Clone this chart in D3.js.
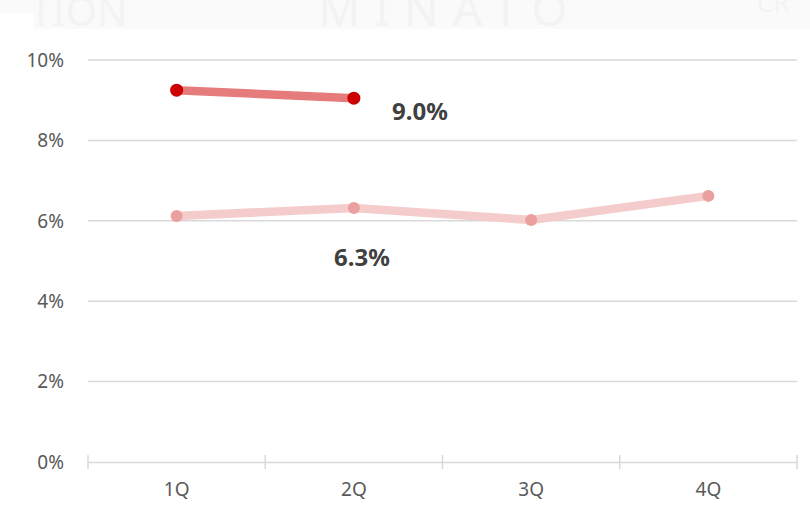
<!DOCTYPE html>
<html>
<head>
<meta charset="utf-8">
<script src="https://cdn.jsdelivr.net/npm/d3@7"></script>
<style>
  html, body { margin: 0; padding: 0; background: #fff; }
  svg { display: block; font-family: "Noto Sans", "Open Sans", sans-serif; }
</style>
</head>
<body>
<svg width="810" height="520"></svg>
<script>
const quarters = ["1Q", "2Q", "3Q", "4Q"];
const yTicks = [0, 0.02, 0.04, 0.06, 0.08, 0.10];
const lastYear = [0.0612, 0.0632, 0.0602, 0.0662];
const thisYear = [0.0925, 0.0905];
const labels = [
    { text: "9.0%", series: "thisYear", index: 1 },
    { text: "6.3%", series: "lastYear", index: 1 }
];

const svg = d3.select("svg");
const width = 810, height = 520;
const margin = { top: 60, right: 13, bottom: 58, left: 88 };
const font = "\"Noto Sans\", \"Open Sans\", sans-serif";

// faint watermark strip at the top of the screenshot
const band = svg.append("g");
band.append("rect")
    .attr("x", 0).attr("y", 0)
    .attr("width", width).attr("height", 29)
    .attr("fill", "#fafafa");
band.append("text")
    .attr("x", 450).attr("y", 26)
    .attr("text-anchor", "middle")
    .attr("font-size", 46)
    .attr("letter-spacing", 14)
    .attr("fill", "#f3f3f3")
    .text("MINATO");
band.append("text")
    .attr("x", 30).attr("y", 26)
    .attr("font-size", 40)
    .attr("fill", "#f3f3f3")
    .text("TION");
band.append("text")
    .attr("x", 757).attr("y", 12)
    .attr("font-size", 26)
    .attr("fill", "#f3f3f3")
    .text("CR");
band.append("rect")
    .attr("x", 0).attr("y", 14)
    .attr("width", 34).attr("height", 16)
    .attr("fill", "#fff");
band.append("rect")
    .attr("x", 0).attr("y", 29)
    .attr("width", width).attr("height", 6)
    .attr("fill", "#fff");

const x = d3.scaleBand()
    .domain(quarters)
    .range([margin.left, width - margin.right]);

const y = d3.scaleLinear()
    .domain([0, 0.10])
    .range([height - margin.bottom, margin.top]);

const gridColor = "#d9d9d9";

// gridlines
svg.append("g")
    .selectAll("line")
    .data(yTicks.filter(d => d > 0))
    .join("line")
    .attr("x1", margin.left)
    .attr("x2", width - margin.right)
    .attr("y1", d => y(d))
    .attr("y2", d => y(d))
    .attr("stroke", gridColor)
    .attr("stroke-width", 1.5);

// y labels
svg.append("g")
    .selectAll("text")
    .data(yTicks)
    .join("text")
    .attr("x", 64)
    .attr("y", d => y(d))
    .attr("dy", "0.36em")
    .attr("text-anchor", "end")
    .attr("font-size", 19)
    .attr("fill", "#595959")
    .text(d => d3.format(".0%")(d));

// x axis
const xAxis = svg.append("g")
    .attr("transform", `translate(0,${y(0)})`)
    .call(d3.axisBottom(x).tickSize(0).tickPadding(21));
xAxis.select(".domain")
    .attr("stroke", gridColor)
    .attr("stroke-width", 1.5);
xAxis.selectAll("text")
    .attr("font-size", 19)
    .attr("fill", "#595959")
    .attr("font-family", font);

const bounds = quarters.map(q => x(q)).concat([x.range()[1]]);
xAxis.selectAll(".sep")
    .data(bounds)
    .join("line")
    .attr("class", "sep")
    .attr("x1", d => d).attr("x2", d => d)
    .attr("y1", -7).attr("y2", 7)
    .attr("stroke", gridColor)
    .attr("stroke-width", 1.5);

const cx = (d, i) => x(quarters[i]) + x.bandwidth() / 2;

const line = d3.line()
    .x((d, i) => cx(d, i))
    .y(d => y(d));

function drawSeries(values, lineColor, dotColor, r) {
    svg.append("path")
        .datum(values)
        .attr("d", line)
        .attr("fill", "none")
        .attr("stroke", lineColor)
        .attr("stroke-width", 8.5);
    svg.append("g")
        .selectAll("circle")
        .data(values)
        .join("circle")
        .attr("cx", cx)
        .attr("cy", d => y(d))
        .attr("r", r)
        .attr("fill", dotColor);
}

drawSeries(lastYear, "#f4cccc", "#eba0a0", 6);
drawSeries(thisYear, "#e57b7b", "#cc0000", 6.5);

// data labels
const seriesMap = { thisYear, lastYear };
const offsets = { thisYear: [66, 13], lastYear: [8, 49] };
svg.append("g")
    .selectAll("text")
    .data(labels)
    .join("text")
    .attr("x", d => cx(null, d.index) + offsets[d.series][0])
    .attr("y", d => y(seriesMap[d.series][d.index]) + offsets[d.series][1])
    .attr("dy", "0.36em")
    .attr("text-anchor", "middle")
    .attr("font-size", 24)
    .attr("font-weight", "bold")
    .attr("fill", "#404040")
    .text(d => d.text);
</script>
</body>
</html>
